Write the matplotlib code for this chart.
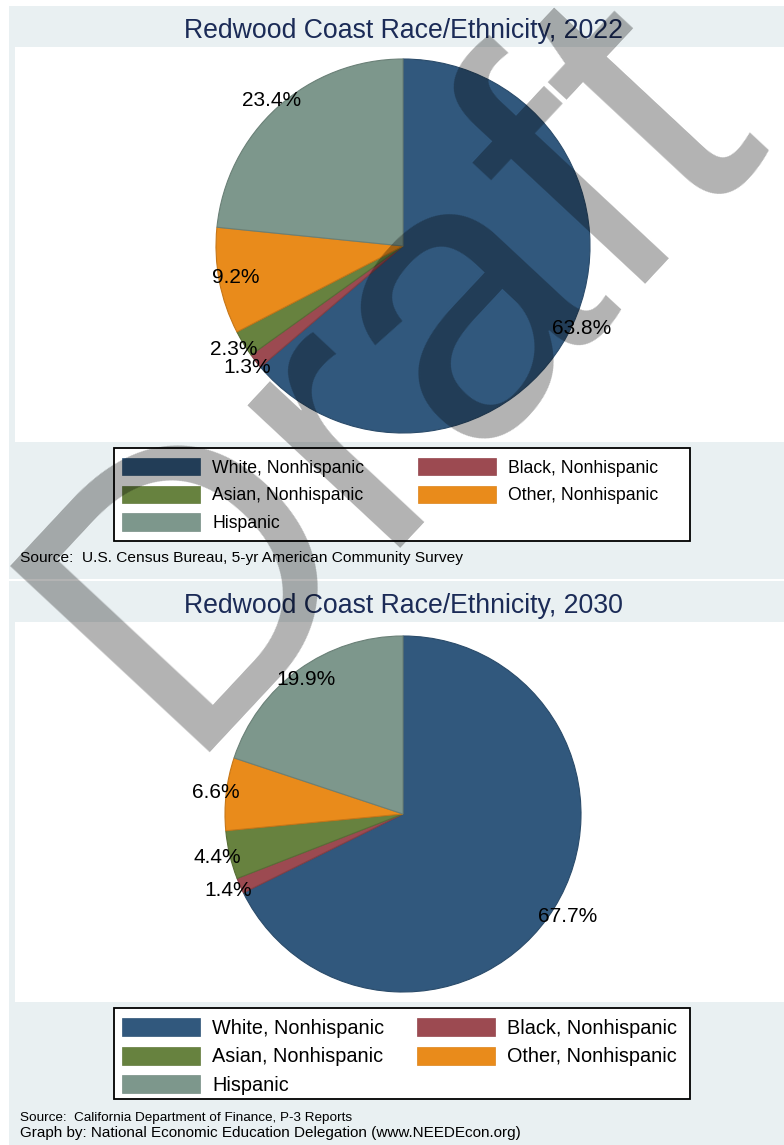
import matplotlib
matplotlib.use("Agg")
import matplotlib.pyplot as plt
from matplotlib.patches import Rectangle, Patch
from matplotlib.colors import to_rgb
import numpy as np

# ---------------- data ----------------
categories = ["White, Nonhispanic", "Black, Nonhispanic", "Asian, Nonhispanic",
              "Other, Nonhispanic", "Hispanic"]
share_2022 = [63.8, 1.3, 2.3, 9.2, 23.4]
share_2030 = [67.7, 1.4, 4.4, 6.6, 19.9]
colors = ["#31587d", "#9c4a51", "#67823f", "#e98b1b", "#7d978c"]
title_2022 = "Redwood Coast Race/Ethnicity, 2022"
title_2030 = "Redwood Coast Race/Ethnicity, 2030"
source_2022 = "Source:  U.S. Census Bureau, 5-yr American Community Survey"
source_2030 = "Source:  California Department of Finance, P-3 Reports"
credit_2030 = "Graph by: National Economic Education Delegation (www.NEEDEcon.org)"
watermark = "Draft"

# ---------------- layout helpers ----------------
W, H, DPI = 784, 1145, 100
fig = plt.figure(figsize=(W / DPI, H / DPI), dpi=DPI)
fig.patch.set_facecolor("white")
FONT = ["Liberation Sans", "DejaVu Sans"]
REGION = "#e9f0f2"
TITLE_C = "#1b2b57"


def fx(x):
    return x / W


def fy(y):
    return 1 - y / H


def rect(x0, y0, x1, y1, fc, ec="none", lw=0, z=0):
    fig.add_artist(Rectangle((fx(x0), fy(y1)), (x1 - x0) / W, (y1 - y0) / H,
                             transform=fig.transFigure, facecolor=fc,
                             edgecolor=ec, linewidth=lw, zorder=z))


def darker(c, f=0.85):
    r, g, b = to_rgb(c)
    return (r * f, g * f, b * f)


def panel(values, title, cx, cy, R, region, plot, legend_box, leg_fs, label_r,
          y_title, colspace_px, pitch_px):
    rect(*region, REGION, z=0)
    rect(*plot, "white", z=1)
    fig.text(fx(cx), fy(y_title), title, ha="center", va="center",
             fontsize=19.2, color=TITLE_C, family=FONT, zorder=3)
    ax = fig.add_axes([fx(cx - R), fy(cy + R), 2 * R / W, 2 * R / H])
    ax.set_zorder(2)
    wedges, _, autotexts = ax.pie(values, colors=colors, startangle=90,
                                  counterclock=False, radius=1,
                                  autopct="%1.1f%%", pctdistance=1.05,
                                  textprops=dict(fontsize=15, family=FONT, color="black"),
                                  wedgeprops=dict(linewidth=0.8))
    for w, c in zip(wedges, colors):
        w.set_edgecolor(darker(c))
    cum = np.cumsum([0] + list(values))
    tot = cum[-1]
    for i, t in enumerate(autotexts):
        mid = 90 - (cum[i] + values[i] / 2) / tot * 360
        a = np.deg2rad(mid)
        t.set_position((label_r[i] * np.cos(a), label_r[i] * np.sin(a)))
        t.set_ha("center")
        t.set_va("center")
    ax.set_xlim(-1, 1)
    ax.set_ylim(-1, 1)
    ax.axis("off")
    # legend frame
    lx0, ly0, lx1, ly1 = legend_box
    rect(lx0, ly0, lx1, ly1, "white", ec="black", lw=1.3, z=2)
    order = [0, 2, 4, 1, 3]
    handles = [Patch(facecolor=colors[i], edgecolor=darker(colors[i], 0.95), linewidth=0.5)
               for i in order]
    labels = [categories[i] for i in order]
    fs_px = leg_fs * DPI / 72
    hh = 20
    leg = fig.legend(handles, labels, loc="upper left",
                     bbox_to_anchor=(fx(lx0 + 8), fy(ly0 + 10)),
                     ncol=2, frameon=False, borderpad=0, borderaxespad=0,
                     prop=dict(family=FONT, size=leg_fs),
                     handlelength=78 / fs_px, handleheight=hh / fs_px,
                     handletextpad=12 / fs_px, labelspacing=(pitch_px - hh) / fs_px,
                     columnspacing=colspace_px / fs_px)
    leg.set_zorder(4)
    return ax


# top panel (2022)
panel(share_2022, title_2022, 403, 246, 187,
      region=(9, 6, 784, 579), plot=(15, 47, 784, 442),
      legend_box=(114, 448, 690, 541), leg_fs=12.7,
      label_r=[1.05, 1.06, 1.06, 0.91, 1.05], y_title=31,
      colspace_px=54, pitch_px=29)
fig.text(fx(20), fy(558), source_2022, ha="left", va="center",
         fontsize=11.15, family=FONT, color="black", zorder=3)

# bottom panel (2030)
panel(share_2030, title_2030, 403, 814, 178,
      region=(9, 581, 784, 1145), plot=(15, 622, 784, 1002),
      legend_box=(114, 1008, 690, 1099), leg_fs=14.3,
      label_r=[1.09, 1.07, 1.07, 1.06, 0.93], y_title=606,
      colspace_px=33, pitch_px=29)
fig.text(fx(20), fy(1118), source_2030, ha="left", va="center",
         fontsize=9.7, family=FONT, color="black", zorder=3)
fig.text(fx(20), fy(1133), credit_2030, ha="left", va="center",
         fontsize=11.0, family=FONT, color="black", zorder=3)

# watermark
fig.text(fx(178), fy(752), watermark, fontsize=285, family=FONT, color="black",
         alpha=0.3, rotation=47, rotation_mode="anchor", ha="left", va="baseline",
         zorder=100)

fig.savefig("out.png", dpi=DPI)
